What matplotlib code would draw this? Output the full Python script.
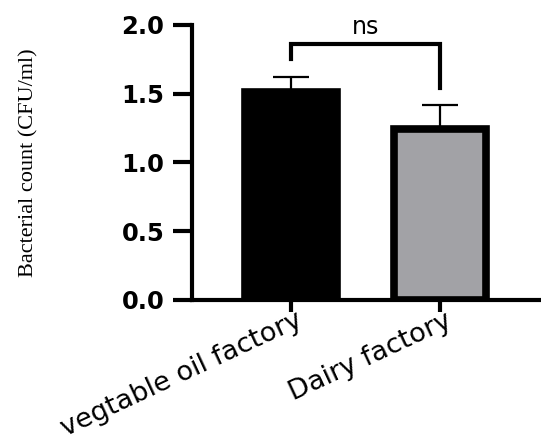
import numpy as np
import matplotlib
matplotlib.use("Agg")
import matplotlib.pyplot as plt

# data
groups = ["vegtable oil factory", "Dairy factory"]
means = [1.51, 1.24]
errs = [0.11, 0.18]
colors = ["#000000", "#a2a2a6"]
yticks = [0.0, 0.5, 1.0, 1.5, 2.0]
bracket_top = 1.86
bracket_legs = [1.75, 1.54]

fig = plt.figure(figsize=(5.41, 4.45), dpi=100)
ax = fig.add_axes([0.355, 0.326, 0.645, 0.618])

x = np.arange(len(groups))
ax.bar(x, means, width=0.62, color=colors, edgecolor="black", linewidth=5.5, zorder=2)
ax.errorbar(x, means, yerr=[np.zeros(len(errs)), errs], fmt="none", ecolor="black",
            elinewidth=1.6, capsize=13, capthick=1.6, zorder=1)

# significance bracket
ax.plot([x[0], x[0], x[1], x[1]],
        [bracket_legs[0], bracket_top, bracket_top, bracket_legs[1]],
        color="black", lw=3, solid_joinstyle="miter", clip_on=False)
ax.text((x[0] + x[1]) / 2, bracket_top + 0.04, "ns", ha="center", va="bottom",
        fontsize=17, family="DejaVu Sans")

ax.set_xlim(-0.665, 1.68)
ax.set_ylim(0, 2.0)
ax.set_yticks(yticks)
ax.set_yticklabels([f"{t:.1f}" for t in yticks], fontsize=17.5, fontweight="bold",
                   family="DejaVu Sans")

# tick marks on the bars, slanted labels slightly to the right (minor ticks)
ax.set_xticks(x)
ax.set_xticklabels([])
ax.set_xticks(x + 0.07, minor=True)
ax.set_xticklabels(groups, minor=True, rotation=25, ha="right", va="center",
                   rotation_mode="anchor", fontsize=19.5, family="DejaVu Sans")

for s in ["top", "right"]:
    ax.spines[s].set_visible(False)
for s in ["left", "bottom"]:
    ax.spines[s].set_linewidth(3)
ax.tick_params(axis="y", length=14, width=3, pad=6)
ax.tick_params(axis="x", which="major", length=8.5, width=3)
ax.tick_params(axis="x", which="minor", length=0, pad=14)

ax.set_ylabel("Bacterial count (CFU/ml)", family="Liberation Serif", fontsize=16)
ax.yaxis.set_label_coords(-0.441, 0.5)

fig.savefig("out.png", dpi=100)
